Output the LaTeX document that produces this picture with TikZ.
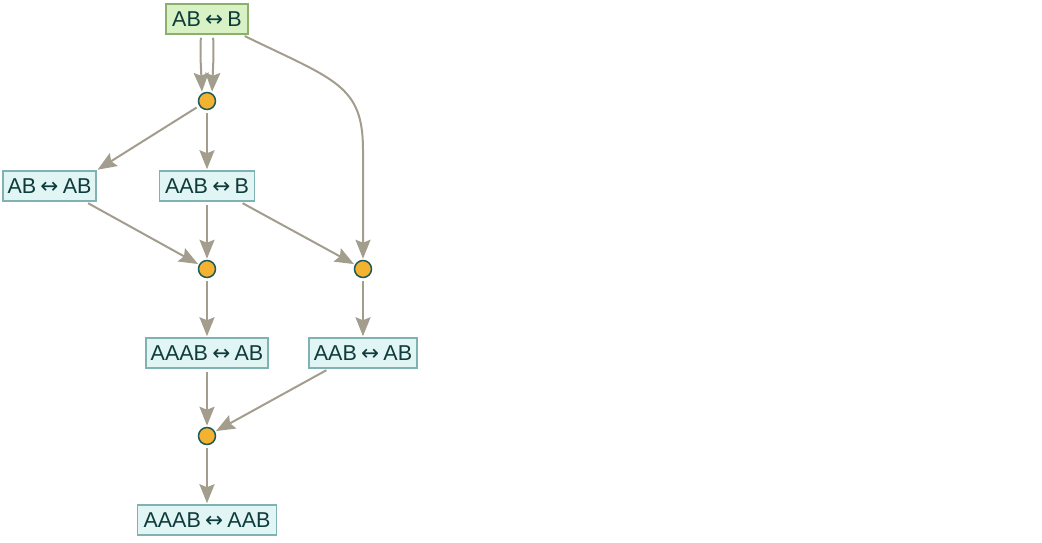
\documentclass[tikz,border=0pt]{standalone}
\usepackage{fontspec}
\setmainfont{Liberation Sans}
\newfontfamily\arrfont{DejaVu Sans}
\usetikzlibrary{arrows.meta}
\definecolor{edgec}{HTML}{A39D8E}
\definecolor{boxfill}{HTML}{E2F5F5}
\definecolor{boxdraw}{HTML}{7FB1B5}
\definecolor{gfill}{HTML}{D8F2C6}
\definecolor{gdraw}{HTML}{8DAF6C}
\definecolor{txt}{HTML}{0E3B3B}
\definecolor{dotfill}{HTML}{F4B231}
\definecolor{dotdraw}{HTML}{1E5B5B}
\newcommand{\lr}{\hspace{0.2em}{\arrfont ↔}\hspace{0.2em}}
\tikzset{
  box/.style={draw=boxdraw, fill=boxfill, line width=1.5pt, text=txt, inner sep=0pt, minimum height=30pt, font=\fontsize{21.5}{23}\selectfont},
  gbox/.style={box, draw=gdraw, fill=gfill},
  dot/.style={circle, draw=dotdraw, fill=dotfill, line width=1.5pt, minimum size=17pt, inner sep=0pt},
  edge/.style={draw=edgec, line width=2pt, -{Stealth[length=19pt, width=15pt, inset=3pt]}, shorten >=1pt, shorten <=3pt},
}
\begin{document}
\begin{tikzpicture}[x=1pt, y=-1pt]
\useasboundingbox (0,0) rectangle (1042,542);
\node[gbox, minimum width=82pt] (top) at (207,19) {AB\lr B};
\node[dot] (c1) at (207,101) {};
\node[box, minimum width=93pt] (abab) at (49.5,186) {AB\lr AB};
\node[box, minimum width=95pt] (aabb) at (207,186) {AAB\lr B};
\node[dot] (c2) at (207,269) {};
\node[dot] (c3) at (363,269) {};
\node[box, minimum width=122pt] (aaabab) at (207,353) {AAAB\lr AB};
\node[box, minimum width=108pt] (aabab) at (363,353) {AAB\lr AB};
\node[dot] (c4) at (207,436) {};
\node[box, minimum width=139pt] (aaabaab) at (207,520) {AAAB\lr AAB};
\coordinate (c1l) at ([xshift=-5pt,yshift=-1pt]c1.north);
\coordinate (c1r) at ([xshift=5pt,yshift=-1pt]c1.north);
\draw[edge] ([xshift=-6pt]top.south) .. controls +(-1,20) and +(-1,-25) .. (c1l);
\draw[edge] ([xshift=6pt]top.south) .. controls +(1,20) and +(1,-25) .. (c1r);
\draw[edge] ([xshift=35pt]top.south) .. controls (335,80) and (363,85) .. (363,150) -- (c3.north);
\draw[edge] (c1) -- (abab.north east);
\draw[edge] (c1) -- (aabb);
\draw[edge] ([xshift=36pt]abab.south) -- (c2);
\draw[edge] (aabb) -- (c2);
\draw[edge] ([xshift=33pt]aabb.south) -- (c3);
\draw[edge] (c2) -- (aaabab);
\draw[edge] (c3) -- (aabab);
\draw[edge] (aaabab) -- (c4);
\draw[edge] ([xshift=-34pt]aabab.south) -- (c4);
\draw[edge] (c4) -- (aaabaab);
\end{tikzpicture}
\end{document}
